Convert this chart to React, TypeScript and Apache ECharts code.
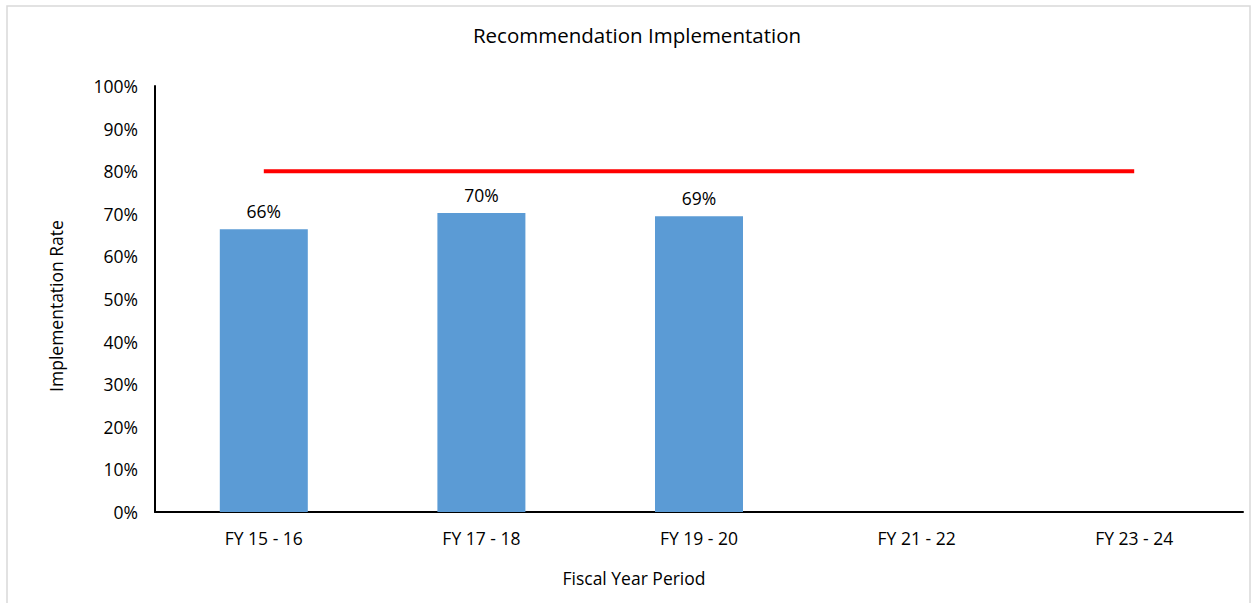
import React, { useEffect, useRef } from "react";
import * as echarts from "echarts";

const categories = ["FY 15 - 16", "FY 17 - 18", "FY 19 - 20", "FY 21 - 22", "FY 23 - 24"];
const rates: (number | null)[] = [66.4, 70.2, 69.4, null, null];
const target = [80, 80, 80, 80, 80];

const FONT = "'Open Sans', sans-serif";

export default function App() {
  const ref = useRef<HTMLDivElement>(null);
  useEffect(() => {
    if (!ref.current) return;
    const chart = echarts.init(ref.current, null, { renderer: "svg" });
    chart.setOption({
      animation: false,
      backgroundColor: "#fff",
      textStyle: { fontFamily: FONT },
      graphic: [
        {
          type: "rect",
          shape: { x: 7, y: 6, width: 1243, height: 600 },
          style: { fill: "none", stroke: "#d9d9d9", lineWidth: 1.5 },
          silent: true,
        },
        {
          type: "text",
          x: 637,
          y: 35,
          style: {
            text: "Recommendation Implementation",
            fontFamily: FONT,
            fontSize: 20.5,
            fill: "#000",
            align: "center",
            verticalAlign: "middle",
          },
          silent: true,
        },
        {
          type: "text",
          x: 634,
          y: 578,
          style: {
            text: "Fiscal Year Period",
            fontFamily: FONT,
            fontSize: 17.5,
            fill: "#000",
            align: "center",
            verticalAlign: "middle",
          },
          silent: true,
        },
        {
          type: "text",
          x: 56,
          y: 306,
          rotation: Math.PI / 2,
          style: {
            text: "Implementation Rate",
            fontFamily: FONT,
            fontSize: 17.5,
            fill: "#000",
            align: "center",
            verticalAlign: "middle",
          },
          silent: true,
        },
      ],
      grid: { left: 155, right: 12, top: 86, bottom: 91, containLabel: false },
      xAxis: {
        type: "category",
        data: categories,
        axisLine: { lineStyle: { color: "#000", width: 2 } },
        axisTick: { show: false },
        axisLabel: { fontFamily: FONT, fontSize: 17.5, color: "#000", margin: 17 },
      },
      yAxis: {
        type: "value",
        min: 0,
        max: 100,
        interval: 10,
        axisLine: { show: true, lineStyle: { color: "#000", width: 2 } },
        axisTick: { show: false },
        splitLine: { show: false },
        axisLabel: { fontFamily: FONT, fontSize: 17.5, color: "#000", margin: 17, formatter: "{value}%" },
      },
      series: [
        {
          type: "bar",
          data: rates,
          barWidth: 88,
          itemStyle: { color: "#5b9bd5" },
          label: {
            show: true,
            position: "top",
            distance: 9,
            fontFamily: FONT,
            fontSize: 17.5,
            color: "#000",
            formatter: (p: any) => (p.value == null ? "" : Math.round(p.value) + "%"),
          },
        },
        {
          type: "line",
          data: target,
          symbol: "none",
          lineStyle: { color: "#ff0000", width: 4 },
          z: 5,
        },
      ],
    });
    return () => chart.dispose();
  }, []);
  return (
    <div
      ref={ref}
      style={{ position: "absolute", left: 0, top: 0, width: 1255, height: 603 }}
    />
  );
}
